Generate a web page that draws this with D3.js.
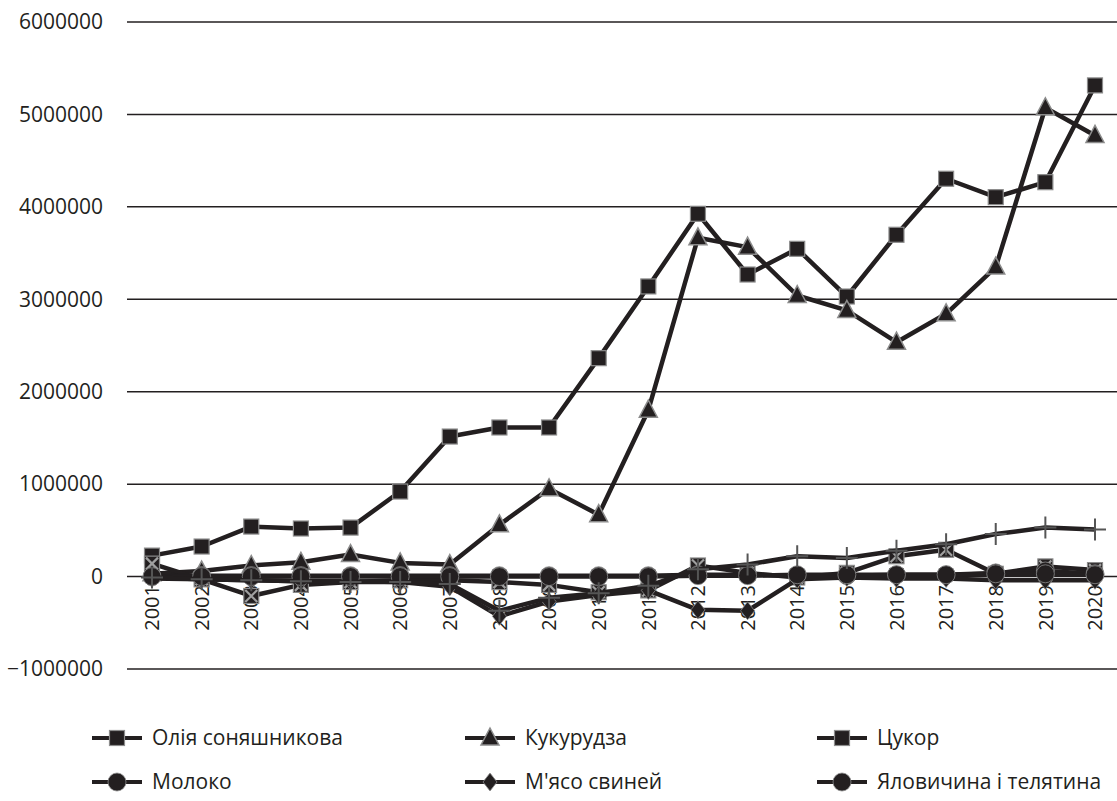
<!DOCTYPE html>
<html><head><meta charset="utf-8">
<script src="https://cdn.jsdelivr.net/npm/d3@7"></script>
<style>body{margin:0;background:#fff}svg{display:block}text{font-family:"Open Sans",sans-serif;fill:#231f20}</style>
</head><body><svg id="c" width="1117" height="801"></svg>
<script>
const years = ["2001","2002","2003","2004","2005","2006","2007","2008","2009","2010","2011","2012","2013","2014","2015","2016","2017","2018","2019","2020"];
const yTicks = [-1000000,0,1000000,2000000,3000000,4000000,5000000,6000000];
const oil     = [227000,325000,541000,520000,530000,920000,1515000,1613000,1613000,2363000,3139000,3925000,3268000,3546000,3030000,3698000,4304000,4105000,4267000,5314000];
const corn    = [30000,60000,120000,155000,238000,148000,130000,560000,950000,670000,1800000,3665000,3564000,3041000,2879000,2536000,2843000,3348000,5072000,4773000];
const sugar   = [140000,-30000,-210000,-90000,-60000,-40000,-40000,-60000,-90000,-170000,-150000,120000,40000,-10000,40000,220000,290000,30000,110000,70000];
const milk    = [0,10000,10000,10000,10000,10000,10000,10000,10000,10000,10000,20000,20000,10000,10000,20000,20000,40000,60000,30000];
const pork    = [-20000,-30000,-40000,-50000,-50000,-60000,-110000,-430000,-270000,-200000,-150000,-360000,-370000,-30000,-10000,-20000,-20000,-40000,-40000,-40000];
const beef    = [0,0,0,0,0,0,0,0,0,0,0,10000,10000,20000,20000,20000,20000,30000,30000,20000];
const extra   = [-10000,-30000,-40000,-50000,-60000,-60000,-80000,-370000,-230000,-180000,-100000,80000,130000,220000,200000,280000,350000,460000,530000,510000];

const series = [
  {name:"Олія соняшникова", values:oil, marker:"square", legend:true},
  {name:"Кукурудза", values:corn, marker:"triangle", legend:true},
  {name:"Цукор", values:sugar, marker:"xsquare", legend:true},
  {name:"Молоко", values:milk, marker:"circle", legend:true},
  {name:"М'ясо свиней", values:pork, marker:"diamond", legend:true},
  {name:"Яловичина і телятина", values:beef, marker:"circle", legend:true},
  {name:"", values:extra, marker:"plus", legend:false}
];

const svg = d3.select("#c");
const x = d3.scalePoint().domain(years).range([152,1095]);
const y = d3.scaleLinear().domain([-1000000,6000000]).range([669,22]);
const ink = "#231f20", grey = "#8c8c8c";

const yAxis = d3.axisLeft(y).tickValues(yTicks).tickSize(0).tickPadding(0).tickFormat(d => d < 0 ? "\u2212" + Math.abs(d) : String(d));
const gy = svg.append("g").attr("transform","translate(103,0)").call(yAxis);
gy.select(".domain").remove();
gy.selectAll("text").attr("font-size",21).attr("font-family","Open Sans").attr("fill",ink).attr("x",0);
svg.append("g").selectAll("line").data(yTicks).join("line")
  .attr("x1",127).attr("x2",1117).attr("y1",d=>y(d)).attr("y2",d=>y(d))
  .attr("stroke",ink).attr("stroke-width",1.5);

svg.append("g").selectAll("text").data(years).join("text")
  .attr("transform",d=>`translate(${x(d)},585) rotate(-90)`)
  .attr("text-anchor","end").attr("dy","0.36em").attr("font-size",20).text(d=>d);

function drawMarker(g, type) {
  if (type==="square") g.append("rect").attr("x",-7.5).attr("y",-7.5).attr("width",15).attr("height",15).attr("fill",ink).attr("stroke",grey).attr("stroke-width",1.2);
  else if (type==="xsquare") {
    g.append("rect").attr("x",-7.5).attr("y",-7.5).attr("width",15).attr("height",15).attr("fill",ink).attr("stroke",grey).attr("stroke-width",1.2);
    g.append("path").attr("d","M-6,-6L6,6M-6,6L6,-6").attr("stroke","#a0a0a0").attr("stroke-width",2.2);
  }
  else if (type==="triangle") g.append("path").attr("d","M0,-10L9,7L-9,7Z").attr("fill",ink).attr("stroke",grey).attr("stroke-width",1.5);
  else if (type==="circle") g.append("circle").attr("r",9).attr("fill",ink).attr("stroke",grey).attr("stroke-width",0.8);
  else if (type==="diamond") g.append("path").attr("d","M0,-9L7,0L0,9L-7,0Z").attr("fill",ink).attr("stroke",grey).attr("stroke-width",0.8);
  else if (type==="plus") g.append("path").attr("d","M-11,0H11M0,-11V11").attr("stroke","#555").attr("stroke-width",2);
}

const line = d3.line().x((d,i)=>x(years[i])).y(d=>y(d));
series.forEach(s => {
  const g = svg.append("g");
  g.append("path").attr("d",line(s.values)).attr("fill","none").attr("stroke",ink).attr("stroke-width",4.5).attr("stroke-linejoin","round");
  s.values.forEach((v,i) => {
    const m = g.append("g").attr("transform",`translate(${x(years[i])},${y(v)})`);
    drawMarker(m, s.marker);
  });
});

const legCols = [92,465,817], legRows = [738,782];
series.filter(s=>s.legend).forEach((s,i) => {
  const lx = legCols[i%3], ly = legRows[Math.floor(i/3)];
  const g = svg.append("g").attr("transform",`translate(${lx},${ly})`);
  g.append("line").attr("x1",0).attr("x2",50).attr("stroke",ink).attr("stroke-width",4);
  const m = g.append("g").attr("transform","translate(25,0)");
  drawMarker(m, s.marker==="xsquare" ? "square" : s.marker);
  g.append("text").attr("x",60).attr("dy","0.35em").attr("font-size",21).text(s.name);
});
</script></body></html>
